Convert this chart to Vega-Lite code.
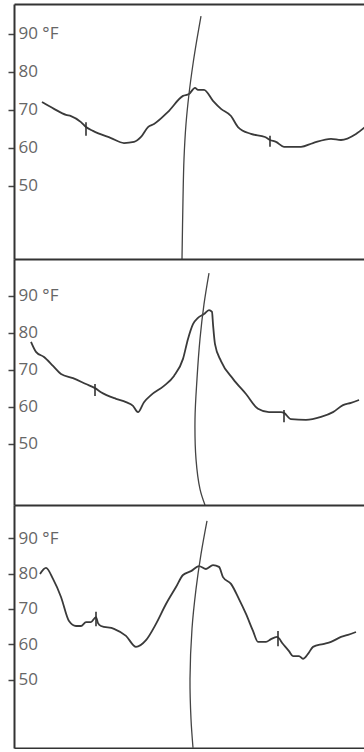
{
  "$schema": "https://vega.github.io/schema/vega-lite/v6.json",
  "padding": {"left": 7, "top": 4, "right": 0, "bottom": 0},
  "background": "white",
  "spacing": 0,
  "config": {"view": {"stroke": null}},
  "datasets": {
    "temp": [
      {"p":1,"x":28,"t":72.0},{"p":1,"x":40,"t":70.2},{"p":1,"x":52,"t":68.6},{"p":1,"x":57,"t":68.3},{"p":1,"x":67,"t":66.7},{"p":1,"x":72,"t":65.4},{"p":1,"x":79,"t":64.4},{"p":1,"x":97,"t":62.5},{"p":1,"x":110,"t":61.2},{"p":1,"x":120,"t":61.5},{"p":1,"x":127,"t":62.8},{"p":1,"x":134,"t":65.4},{"p":1,"x":140,"t":66.2},{"p":1,"x":154,"t":69.4},{"p":1,"x":169,"t":73.6},{"p":1,"x":175,"t":74.1},{"p":1,"x":181,"t":75.7},{"p":1,"x":184,"t":75.2},{"p":1,"x":190,"t":75.2},{"p":1,"x":199,"t":72.3},{"p":1,"x":207,"t":70.2},{"p":1,"x":217,"t":68.3},{"p":1,"x":224,"t":65.4},{"p":1,"x":237,"t":63.6},{"p":1,"x":251,"t":62.8},{"p":1,"x":256,"t":62.0},{"p":1,"x":262,"t":61.5},{"p":1,"x":270,"t":60.2},{"p":1,"x":287,"t":60.2},{"p":1,"x":299,"t":61.2},{"p":1,"x":317,"t":62.3},{"p":1,"x":327,"t":62.0},{"p":1,"x":342,"t":63.6},{"p":1,"x":351,"t":65.4},
      {"p":2,"x":17,"t":77.5},{"p":2,"x":22,"t":74.8},{"p":2,"x":30,"t":73.4},{"p":2,"x":39,"t":71.0},{"p":2,"x":47,"t":68.8},{"p":2,"x":59,"t":67.7},{"p":2,"x":72,"t":66.1},{"p":2,"x":81,"t":65.0},{"p":2,"x":87,"t":63.9},{"p":2,"x":102,"t":62.1},{"p":2,"x":112,"t":61.2},{"p":2,"x":119,"t":60.2},{"p":2,"x":124,"t":58.5},{"p":2,"x":130,"t":61.2},{"p":2,"x":137,"t":63.1},{"p":2,"x":150,"t":65.6},{"p":2,"x":160,"t":68.3},{"p":2,"x":169,"t":72.9},{"p":2,"x":174,"t":78.3},{"p":2,"x":179,"t":82.3},{"p":2,"x":184,"t":84.0},{"p":2,"x":190,"t":85.0},{"p":2,"x":195,"t":86.1},{"p":2,"x":198,"t":85.6},{"p":2,"x":199,"t":82.3},{"p":2,"x":201,"t":76.9},{"p":2,"x":207,"t":72.3},{"p":2,"x":219,"t":67.5},{"p":2,"x":232,"t":63.4},{"p":2,"x":244,"t":59.4},{"p":2,"x":255,"t":58.5},{"p":2,"x":267,"t":58.5},{"p":2,"x":270,"t":58.3},{"p":2,"x":277,"t":56.6},{"p":2,"x":292,"t":56.4},{"p":2,"x":307,"t":57.2},{"p":2,"x":319,"t":58.5},{"p":2,"x":329,"t":60.4},{"p":2,"x":337,"t":61.0},{"p":2,"x":345,"t":61.8},
      {"p":3,"x":26,"t":79.9},{"p":3,"x":32,"t":81.6},{"p":3,"x":39,"t":78.5},{"p":3,"x":47,"t":73.4},{"p":3,"x":55,"t":66.6},{"p":3,"x":62,"t":65.2},{"p":3,"x":67,"t":65.2},{"p":3,"x":72,"t":66.3},{"p":3,"x":77,"t":66.3},{"p":3,"x":82,"t":67.7},{"p":3,"x":84,"t":66.0},{"p":3,"x":87,"t":65.2},{"p":3,"x":100,"t":64.4},{"p":3,"x":112,"t":62.4},{"p":3,"x":122,"t":59.3},{"p":3,"x":132,"t":61.2},{"p":3,"x":142,"t":65.8},{"p":3,"x":152,"t":71.4},{"p":3,"x":162,"t":76.2},{"p":3,"x":169,"t":79.6},{"p":3,"x":177,"t":80.7},{"p":3,"x":185,"t":82.1},{"p":3,"x":192,"t":81.3},{"p":3,"x":199,"t":82.4},{"p":3,"x":205,"t":81.9},{"p":3,"x":209,"t":79.0},{"p":3,"x":217,"t":77.1},{"p":3,"x":225,"t":72.8},{"p":3,"x":232,"t":68.6},{"p":3,"x":239,"t":63.8},{"p":3,"x":244,"t":60.7},{"p":3,"x":252,"t":60.7},{"p":3,"x":257,"t":61.5},{"p":3,"x":263,"t":62.1},{"p":3,"x":269,"t":60.1},{"p":3,"x":275,"t":58.1},{"p":3,"x":279,"t":56.7},{"p":3,"x":285,"t":56.7},{"p":3,"x":289,"t":55.9},{"p":3,"x":294,"t":57.3},{"p":3,"x":299,"t":59.3},{"p":3,"x":309,"t":60.1},{"p":3,"x":317,"t":60.7},{"p":3,"x":327,"t":62.1},{"p":3,"x":334,"t":62.7},{"p":3,"x":342,"t":63.5}
    ],
    "front": [
      {"p":1,"i":1,"x":187,"t":94.6},{"p":1,"i":2,"x":183,"t":88.6},{"p":1,"i":3,"x":179,"t":82.0},{"p":1,"i":4,"x":175,"t":74.1},{"p":1,"i":5,"x":172,"t":66.2},{"p":1,"i":6,"x":170,"t":57.0},{"p":1,"i":7,"x":169,"t":46.5},{"p":1,"i":8,"x":168,"t":30.7},
      {"p":2,"i":1,"x":195,"t":96.1},{"p":2,"i":2,"x":190,"t":87.7},{"p":2,"i":3,"x":186,"t":78.3},{"p":2,"i":4,"x":183,"t":67.5},{"p":2,"i":5,"x":181,"t":56.6},{"p":2,"i":6,"x":182,"t":45.8},{"p":2,"i":7,"x":186,"t":37.7},{"p":2,"i":8,"x":191,"t":33.4},
      {"p":3,"i":1,"x":193,"t":94.9},{"p":3,"i":2,"x":187,"t":85.5},{"p":3,"i":3,"x":182,"t":75.6},{"p":3,"i":4,"x":178,"t":64.4},{"p":3,"i":5,"x":176,"t":50.2},{"p":3,"i":6,"x":177,"t":38.9},{"p":3,"i":7,"x":179,"t":30.8}
    ],
    "ticks": [
      {"p":1,"x":72,"lo":63.1,"hi":66.7},{"p":1,"x":256,"lo":60.2,"hi":63.1},
      {"p":2,"x":81,"lo":62.9,"hi":66.1},{"p":2,"x":270,"lo":55.8,"hi":59.1},
      {"p":3,"x":82,"lo":65.1,"hi":69.2},{"p":3,"x":264,"lo":59.5,"hi":63.8}
    ]
  },
  "vconcat": [
    {
      "width": 351, "height": 255,
      "layer": [
        {
          "data": {"name": "temp"},
          "transform": [{"filter": "datum.p == 1"}],
          "mark": {"type": "line", "stroke": "#3a3a3a", "strokeWidth": 1.8, "interpolate": "monotone", "clip": true},
          "encoding": {
            "x": {"field": "x", "type": "quantitative", "scale": {"domain": [0, 351], "nice": false, "zero": false}, "axis": {"orient": "top", "domain": true, "domainColor": "#333", "domainWidth": 2, "ticks": false, "labels": false, "grid": false, "title": null}},
            "y": {"field": "t", "type": "quantitative", "scale": {"domain": [30.68, 97.79], "nice": false, "zero": false}, "axis": {"values": [50, 60, 70, 80, 90], "domain": true, "domainColor": "#333", "domainWidth": 2, "ticks": true, "tickSize": 6, "tickColor": "#444", "tickWidth": 1.5, "labelAlign": "left", "labelBaseline": "middle", "labelPadding": -10, "labelFont": "Open Sans", "labelFontSize": 17, "labelColor": "#666", "labelExpr": "datum.value == 90 ? '90 °F' : datum.label", "grid": false, "title": null}}
          }
        },
        {
          "data": {"name": "front"},
          "transform": [{"filter": "datum.p == 1"}],
          "mark": {"type": "line", "stroke": "#444", "strokeWidth": 1.3, "interpolate": "catmull-rom", "clip": true},
          "encoding": {
            "x": {"field": "x", "type": "quantitative"},
            "y": {"field": "t", "type": "quantitative"},
            "order": {"field": "i"}
          }
        },
        {
          "data": {"name": "ticks"},
          "transform": [{"filter": "datum.p == 1"}],
          "mark": {"type": "rule", "stroke": "#333", "strokeWidth": 1.6},
          "encoding": {
            "x": {"field": "x", "type": "quantitative"},
            "y": {"field": "lo", "type": "quantitative"},
            "y2": {"field": "hi"}
          }
        }
      ]
    },
    {
      "width": 351, "height": 246,
      "layer": [
        {
          "data": {"name": "temp"},
          "transform": [{"filter": "datum.p == 2"}],
          "mark": {"type": "line", "stroke": "#3a3a3a", "strokeWidth": 1.8, "interpolate": "monotone", "clip": true},
          "encoding": {
            "x": {"field": "x", "type": "quantitative", "scale": {"domain": [0, 351], "nice": false, "zero": false}, "axis": {"orient": "top", "domain": true, "domainColor": "#333", "domainWidth": 2, "ticks": false, "labels": false, "grid": false, "title": null}},
            "y": {"field": "t", "type": "quantitative", "scale": {"domain": [33.41, 99.89], "nice": false, "zero": false}, "axis": {"values": [50, 60, 70, 80, 90], "domain": true, "domainColor": "#333", "domainWidth": 2, "ticks": true, "tickSize": 6, "tickColor": "#444", "tickWidth": 1.5, "labelAlign": "left", "labelBaseline": "middle", "labelPadding": -10, "labelFont": "Open Sans", "labelFontSize": 17, "labelColor": "#666", "labelExpr": "datum.value == 90 ? '90 °F' : datum.label", "grid": false, "title": null}}
          }
        },
        {
          "data": {"name": "front"},
          "transform": [{"filter": "datum.p == 2"}],
          "mark": {"type": "line", "stroke": "#444", "strokeWidth": 1.3, "interpolate": "catmull-rom", "clip": true},
          "encoding": {
            "x": {"field": "x", "type": "quantitative"},
            "y": {"field": "t", "type": "quantitative"},
            "order": {"field": "i"}
          }
        },
        {
          "data": {"name": "ticks"},
          "transform": [{"filter": "datum.p == 2"}],
          "mark": {"type": "rule", "stroke": "#333", "strokeWidth": 1.6},
          "encoding": {
            "x": {"field": "x", "type": "quantitative"},
            "y": {"field": "lo", "type": "quantitative"},
            "y2": {"field": "hi"}
          }
        }
      ]
    },
    {
      "width": 351, "height": 243,
      "layer": [
        {
          "data": {"name": "temp"},
          "transform": [{"filter": "datum.p == 3"}],
          "mark": {"type": "line", "stroke": "#3a3a3a", "strokeWidth": 1.8, "interpolate": "monotone", "clip": true},
          "encoding": {
            "x": {"field": "x", "type": "quantitative", "scale": {"domain": [0, 351], "nice": false, "zero": false}, "axis": {"orient": "top", "domain": true, "domainColor": "#333", "domainWidth": 2, "ticks": false, "labels": false, "grid": false, "title": null}},
            "y": {"field": "t", "type": "quantitative", "scale": {"domain": [30.73, 99.38], "nice": false, "zero": false}, "axis": {"values": [50, 60, 70, 80, 90], "domain": true, "domainColor": "#333", "domainWidth": 2, "ticks": true, "tickSize": 6, "tickColor": "#444", "tickWidth": 1.5, "labelAlign": "left", "labelBaseline": "middle", "labelPadding": -10, "labelFont": "Open Sans", "labelFontSize": 17, "labelColor": "#666", "labelExpr": "datum.value == 90 ? '90 °F' : datum.label", "grid": false, "title": null}}
          }
        },
        {
          "data": {"name": "front"},
          "transform": [{"filter": "datum.p == 3"}],
          "mark": {"type": "line", "stroke": "#444", "strokeWidth": 1.3, "interpolate": "catmull-rom", "clip": true},
          "encoding": {
            "x": {"field": "x", "type": "quantitative"},
            "y": {"field": "t", "type": "quantitative"},
            "order": {"field": "i"}
          }
        },
        {
          "data": {"name": "ticks"},
          "transform": [{"filter": "datum.p == 3"}],
          "mark": {"type": "rule", "stroke": "#333", "strokeWidth": 1.6},
          "encoding": {
            "x": {"field": "x", "type": "quantitative"},
            "y": {"field": "lo", "type": "quantitative"},
            "y2": {"field": "hi"}
          }
        }
      ]
    },
    {
      "width": 351, "height": 1,
      "data": {"name": "ticks"},
      "transform": [{"filter": "false"}],
      "mark": {"type": "rule"},
      "encoding": {
        "x": {"field": "x", "type": "quantitative", "scale": {"domain": [0, 351], "nice": false, "zero": false}, "axis": {"orient": "top", "domain": true, "domainColor": "#333", "domainWidth": 2, "ticks": false, "labels": false, "grid": false, "title": null}}
      }
    }
  ]
}
